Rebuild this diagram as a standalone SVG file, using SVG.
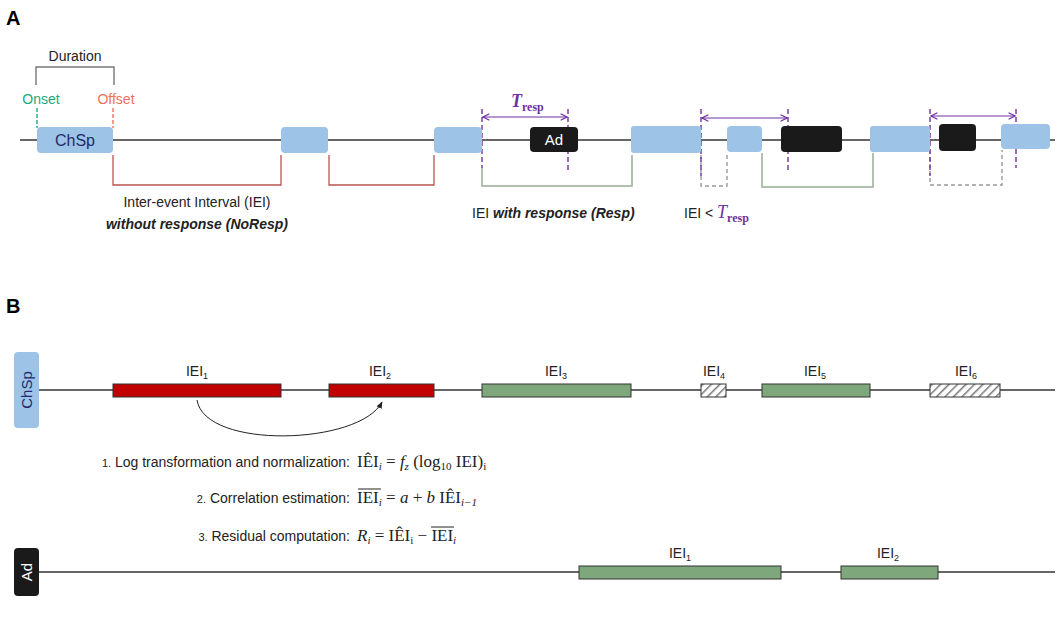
<svg xmlns="http://www.w3.org/2000/svg" width="1064" height="620" viewBox="0 0 1064 620">
<defs>
<style>
text{font-family:"Liberation Sans",Arial,sans-serif;font-size:14px;fill:#222}
.m{font-family:"Liberation Serif","Times New Roman",serif;font-size:17px}
.blue{fill:#9dc3e6}
.blk{fill:#1a1a1a}
.ax{stroke:#333;stroke-width:1.6;fill:none}
.red{stroke:#b85450;stroke-width:1.3;fill:none}
.grn{stroke:#97ae93;stroke-width:1.5;fill:none}
.gry{stroke:#999;stroke-width:1.4;fill:none;stroke-dasharray:4 3}
.pd{stroke:#7030a0;stroke-width:1.4;stroke-dasharray:5 3}
.pa{stroke:#7030a0;stroke-width:1;marker-start:url(#ah);marker-end:url(#ah)}
.rb{fill:#c00000;stroke:#333;stroke-width:1}
.gb{fill:#7ea87b;stroke:#333;stroke-width:1}
.hb{fill:url(#hatch);stroke:#333;stroke-width:1}
</style>
<marker id="ah" viewBox="0 0 10 10" refX="9" refY="5" markerWidth="8" markerHeight="8" orient="auto-start-reverse"><path d="M1,1 L9,5 L1,9" fill="none" stroke="#7030a0" stroke-width="1.5"/></marker>
<marker id="bk" viewBox="0 0 10 10" refX="9" refY="5" markerWidth="7" markerHeight="7" orient="auto"><path d="M0,1 L10,5 L0,9 Z" fill="#222"/></marker>
<pattern id="hatch" width="6" height="6" patternUnits="userSpaceOnUse" patternTransform="rotate(45)"><rect width="6" height="6" fill="#fff"/><line x1="0" y1="0" x2="0" y2="6" stroke="#777" stroke-width="3"/></pattern>
</defs>
<text x="6" y="25" style="font-size:20px;font-weight:bold;fill:#000">A</text>
<text x="6" y="313" style="font-size:20px;font-weight:bold;fill:#000">B</text>
<g id="connectors">
<line class="ax" x1="20" y1="140" x2="1055" y2="140"/>
<path d="M36,85 V67 H114 V85" stroke="#777" stroke-width="1.4" fill="none"/>
<line x1="37" y1="108" x2="37" y2="128" stroke="#1aaa7f" stroke-width="1.4" stroke-dasharray="4 2"/>
<line x1="113" y1="108" x2="113" y2="128" stroke="#f07060" stroke-width="1.4" stroke-dasharray="4 2"/>
<path class="red" d="M113,155 V185 H281 V155"/>
<path class="red" d="M329,155 V185 H434 V155"/>
<path class="grn" d="M482,168 V186 H632 V155"/>
<path class="gry" d="M701,155 V186 H727 V155"/>
<path class="grn" d="M762,153 V187 H873 V153"/>
<path class="gry" d="M930,150 V185 H1002 V150"/>
<line class="pd" x1="482" y1="109" x2="482" y2="168"/>
<line class="pd" x1="568" y1="109" x2="568" y2="170"/>
<line class="pa" x1="483" y1="117" x2="567" y2="117"/>
<line class="pd" x1="701" y1="109" x2="701" y2="176"/>
<line class="pd" x1="788" y1="109" x2="788" y2="170"/>
<line class="pa" x1="702" y1="118" x2="787" y2="118"/>
<line class="pd" x1="930" y1="109" x2="930" y2="176"/>
<line class="pd" x1="1016" y1="109" x2="1016" y2="168"/>
<line class="pa" x1="931" y1="116" x2="1015" y2="116"/>
<line class="ax" x1="38" y1="390" x2="1055" y2="390"/>
<line class="ax" x1="38" y1="572" x2="1055" y2="572"/>
<path d="M197,400 C205,450 360,445 382,402" stroke="#222" stroke-width="1" fill="none" marker-end="url(#bk)"/>
</g>
<g id="chsp1"><rect class="blue" x="37" y="127" width="76" height="26" rx="4"/><text x="75" y="146" text-anchor="middle" style="font-size:16px;fill:#1f2a6b">ChSp</text></g>
<g id="chsp2"><rect class="blue" x="281" y="127" width="47" height="26" rx="4"/></g>
<g id="chsp3"><rect class="blue" x="434" y="127" width="48" height="26" rx="4"/></g>
<g id="ad1"><rect class="blk" x="530" y="127" width="48" height="25" rx="4"/><text x="554" y="145" text-anchor="middle" style="font-size:15px;fill:#fff">Ad</text></g>
<g id="chsp4"><rect class="blue" x="631" y="126" width="70" height="27" rx="3"/></g>
<g id="chsp5"><rect class="blue" x="727" y="126" width="35" height="26" rx="4"/></g>
<g id="ad2"><rect class="blk" x="781" y="126" width="61" height="26" rx="4"/></g>
<g id="chsp6"><rect class="blue" x="870" y="126" width="60" height="26" rx="3"/></g>
<g id="ad3"><rect class="blk" x="939" y="124" width="37" height="27" rx="4"/></g>
<g id="chsp7"><rect class="blue" x="1001" y="124" width="49" height="25" rx="4"/></g>
<g id="labelsA">
<text x="75" y="61" text-anchor="middle">Duration</text>
<text x="41" y="104" text-anchor="middle" style="fill:#1aaa7f">Onset</text>
<text x="116" y="104" text-anchor="middle" style="fill:#f07060">Offset</text>
<text x="197" y="207" text-anchor="middle">Inter-event Interval (IEI)</text>
<text x="197" y="229" text-anchor="middle" style="font-weight:bold;font-style:italic">without response (NoResp)</text>
<text x="472" y="218">IEI <tspan style="font-weight:bold;font-style:italic">with response (Resp)</tspan></text>
<text x="684" y="218">IEI &lt; <tspan class="m" style="font-style:italic;fill:#7030a0;font-size:18px">T</tspan><tspan class="m" style="fill:#7030a0;font-size:12px;font-weight:bold" dy="4">resp</tspan></text>
<text x="511" y="107" class="m" style="font-style:italic;fill:#7030a0;font-size:18px;font-weight:bold">T<tspan style="font-size:12px;font-style:normal" dy="4">resp</tspan></text>
</g>
<g id="chspB"><rect class="blue" x="14" y="352" width="25" height="76" rx="4"/><text transform="translate(32,390) rotate(-90)" text-anchor="middle" style="font-size:15px;fill:#1f2a6b">ChSp</text></g>
<g id="adB"><rect class="blk" x="14" y="548" width="25" height="48" rx="4"/><text transform="translate(32,572) rotate(-90)" text-anchor="middle" style="font-size:15px;fill:#fff">Ad</text></g>
<g id="bars">
<rect class="rb" x="113" y="384" width="168" height="13"/>
<rect class="rb" x="329" y="384" width="105" height="13"/>
<rect class="gb" x="482" y="384" width="149" height="13"/>
<rect class="hb" x="701" y="384" width="25" height="13"/>
<rect class="gb" x="762" y="384" width="108" height="13"/>
<rect class="hb" x="930" y="384" width="70" height="13"/>
<rect class="gb" x="579" y="566" width="202" height="13"/>
<rect class="gb" x="841" y="566" width="97" height="13"/>
</g>
<g id="labelsB" style="font-size:13px">
<text x="197" y="376" text-anchor="middle">IEI<tspan style="font-size:9px" dy="3">1</tspan></text>
<text x="380" y="376" text-anchor="middle">IEI<tspan style="font-size:9px" dy="3">2</tspan></text>
<text x="556" y="376" text-anchor="middle">IEI<tspan style="font-size:9px" dy="3">3</tspan></text>
<text x="714" y="376" text-anchor="middle">IEI<tspan style="font-size:9px" dy="3">4</tspan></text>
<text x="815" y="376" text-anchor="middle">IEI<tspan style="font-size:9px" dy="3">5</tspan></text>
<text x="966" y="376" text-anchor="middle">IEI<tspan style="font-size:9px" dy="3">6</tspan></text>
<text x="680" y="558" text-anchor="middle">IEI<tspan style="font-size:9px" dy="3">1</tspan></text>
<text x="888" y="558" text-anchor="middle">IEI<tspan style="font-size:9px" dy="3">2</tspan></text>
</g>
<g id="equations">
<text x="350" y="467" text-anchor="end"><tspan style="font-size:11px">1.</tspan> Log transformation and normalization:</text>
<text x="357" y="467" class="m">IÊI<tspan style="font-size:11px;font-style:italic" dy="3">i</tspan><tspan dy="-3"> = </tspan><tspan style="font-style:italic">f</tspan><tspan style="font-size:11px;font-style:italic" dy="3">z</tspan><tspan dy="-3"> (log</tspan><tspan style="font-size:11px" dy="3">10</tspan><tspan dy="-3"> IEI)</tspan><tspan style="font-size:11px" dy="3">i</tspan></text>
<text x="350" y="503" text-anchor="end"><tspan style="font-size:11px">2.</tspan> Correlation estimation:</text>
<line x1="358" y1="489" x2="381" y2="489" stroke="#222" stroke-width="1"/>
<text x="357" y="503" class="m">IEI<tspan style="font-size:11px;font-style:italic" dy="3">i</tspan><tspan dy="-3"> = </tspan><tspan style="font-style:italic">a</tspan> + <tspan style="font-style:italic">b</tspan> IÊI<tspan style="font-size:11px;font-style:italic" dy="3">i−1</tspan></text>
<text x="350" y="541" text-anchor="end"><tspan style="font-size:11px">3.</tspan> Residual computation:</text>
<text x="357" y="541" class="m"><tspan style="font-style:italic">R</tspan><tspan style="font-size:11px;font-style:italic" dy="3">i</tspan><tspan dy="-3"> = IÊI</tspan><tspan style="font-size:11px" dy="3">i</tspan><tspan dy="-3"> − IEI</tspan><tspan style="font-size:11px;font-style:italic" dy="3">i</tspan></text>
<line x1="431" y1="527" x2="454" y2="527" stroke="#222" stroke-width="1"/>
</g>
</svg>
